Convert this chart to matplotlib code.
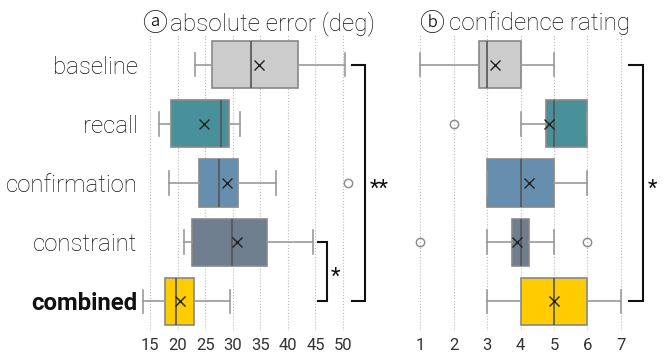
import matplotlib.pyplot as plt

conditions = ["baseline", "recall", "confirmation", "constraint", "combined"]
colors = ["#cccccc", "#48919b", "#668eaf", "#6e7e8e", "#ffcc00"]

# a) absolute error (deg)
err_whislo = [23.2, 16.6, 18.4, 21.2, 13.7]
err_q1 = [26.3, 18.8, 23.9, 22.7, 17.7]
err_med = [33.4, 27.8, 27.6, 29.9, 19.7]
err_q3 = [41.8, 29.3, 30.9, 36.2, 22.9]
err_whishi = [50.3, 31.3, 37.8, 44.6, 29.5]
err_mean = [34.8, 24.8, 29.0, 30.7, 20.5]
err_fliers = [[], [], [50.9], [], []]
err_ticks = [15, 20, 25, 30, 35, 40, 45, 50]

# b) confidence rating
conf_whislo = [1, 4, 3, 3, 3]
conf_q1 = [2.75, 4.75, 3, 3.75, 4]
conf_med = [3, 5, 4, 4, 5]
conf_q3 = [4, 6, 5, 4.25, 6]
conf_whishi = [5, 6, 6, 5, 7]
conf_mean = [3.25, 4.85, 4.25, 3.9, 5.0]
conf_fliers = [[], [2], [], [1, 6], []]
conf_ticks = [1, 2, 3, 4, 5, 6, 7]

FONT = ["Roboto", "DejaVu Sans", "Noto Sans CJK JP"]
plt.rcParams["font.family"] = FONT
TXT = "#111111"


def make_stats(lo, q1, med, q3, hi, mean, fliers):
    stats = []
    for i in range(len(lo)):
        stats.append(dict(whislo=lo[i], q1=q1[i], med=med[i], q3=q3[i],
                          whishi=hi[i], mean=mean[i], fliers=fliers[i]))
    return stats


def draw(ax, stats, ticks, xlim):
    bp = ax.bxp(stats, positions=range(len(stats)), widths=0.8,
                orientation="horizontal", patch_artist=True, showmeans=True,
                boxprops=dict(edgecolor="#888888", linewidth=1.2),
                medianprops=dict(color="#555555", linewidth=1.2),
                whiskerprops=dict(color="#999999", linewidth=1.2),
                capprops=dict(color="#999999", linewidth=1.2),
                meanprops=dict(marker="x", markeredgecolor="#222222",
                               markersize=7, markeredgewidth=1.0),
                flierprops=dict(marker="o", markerfacecolor="none",
                                markeredgecolor="#888888", markersize=6))
    for patch, c in zip(bp["boxes"], colors):
        patch.set_facecolor(c)
    ax.set_ylim(4.5, -0.5)
    ax.set_xlim(*xlim)
    ax.set_xticks(ticks)
    ax.tick_params(length=0, labelsize=12, colors="#333333", pad=5)
    ax.xaxis.grid(True, linestyle=":", color="#bbbbbb", linewidth=0.8)
    ax.set_axisbelow(True)
    for s in ax.spines.values():
        s.set_visible(False)


def bracket(ax, x0, x1, y0, y1):
    ax.plot([x0, x1, x1, x0], [y0, y0, y1, y1], color="#111111",
            linewidth=1.5, clip_on=False, solid_joinstyle="miter")


fig = plt.figure(figsize=(6.65, 3.53), dpi=100)
ax1 = fig.add_axes([139 / 665, 22 / 353, 215 / 665, 296 / 353])
ax2 = fig.add_axes([410 / 665, 22 / 353, 221 / 665, 296 / 353])

draw(ax1, make_stats(err_whislo, err_q1, err_med, err_q3, err_whishi,
                     err_mean, err_fliers), err_ticks, (13, 52))
draw(ax2, make_stats(conf_whislo, conf_q1, conf_med, conf_q3, conf_whishi,
                     conf_mean, conf_fliers), conf_ticks, (0.7, 7.3))

ax1.set_yticks(range(len(conditions)))
ax1.set_yticklabels(conditions, fontsize=17.3, color=TXT)
ax1.tick_params(axis="y", pad=1, colors=TXT)
for i, t in enumerate(ax1.get_yticklabels()):
    t.set_fontweight("bold" if conditions[i] == "combined" else "light")
ax2.set_yticks([])

# significance brackets
bracket(ax1, 51.7, 54.0, 0, 4)
bracket(ax1, 45.5, 47.1, 3, 4)
ax1.text(56.6, 2.1, "**", fontsize=16, ha="center", va="center", color=TXT)
ax1.text(48.7, 3.6, "*", fontsize=16, ha="center", va="center", color=TXT)
bracket(ax2, 7.25, 7.67, 0, 4)
ax2.text(7.95, 2.1, "*", fontsize=16, ha="center", va="center", color=TXT)

# panel titles: circled letter + caption
for letter, caption, xl, xc in [("\u24d0", "absolute error (deg)", 142, 170),
                                ("\u24d1", "confidence rating", 419, 449)]:
    fig.text(xl / 665, 1 - 24 / 353, letter, fontsize=18, ha="left",
             va="center", color=TXT, fontweight="light")
    fig.text(xc / 665, 1 - 30 / 353, caption, fontsize=17.5, ha="left",
             va="baseline", color=TXT, fontweight="light")

fig.savefig("out.png", dpi=100)
